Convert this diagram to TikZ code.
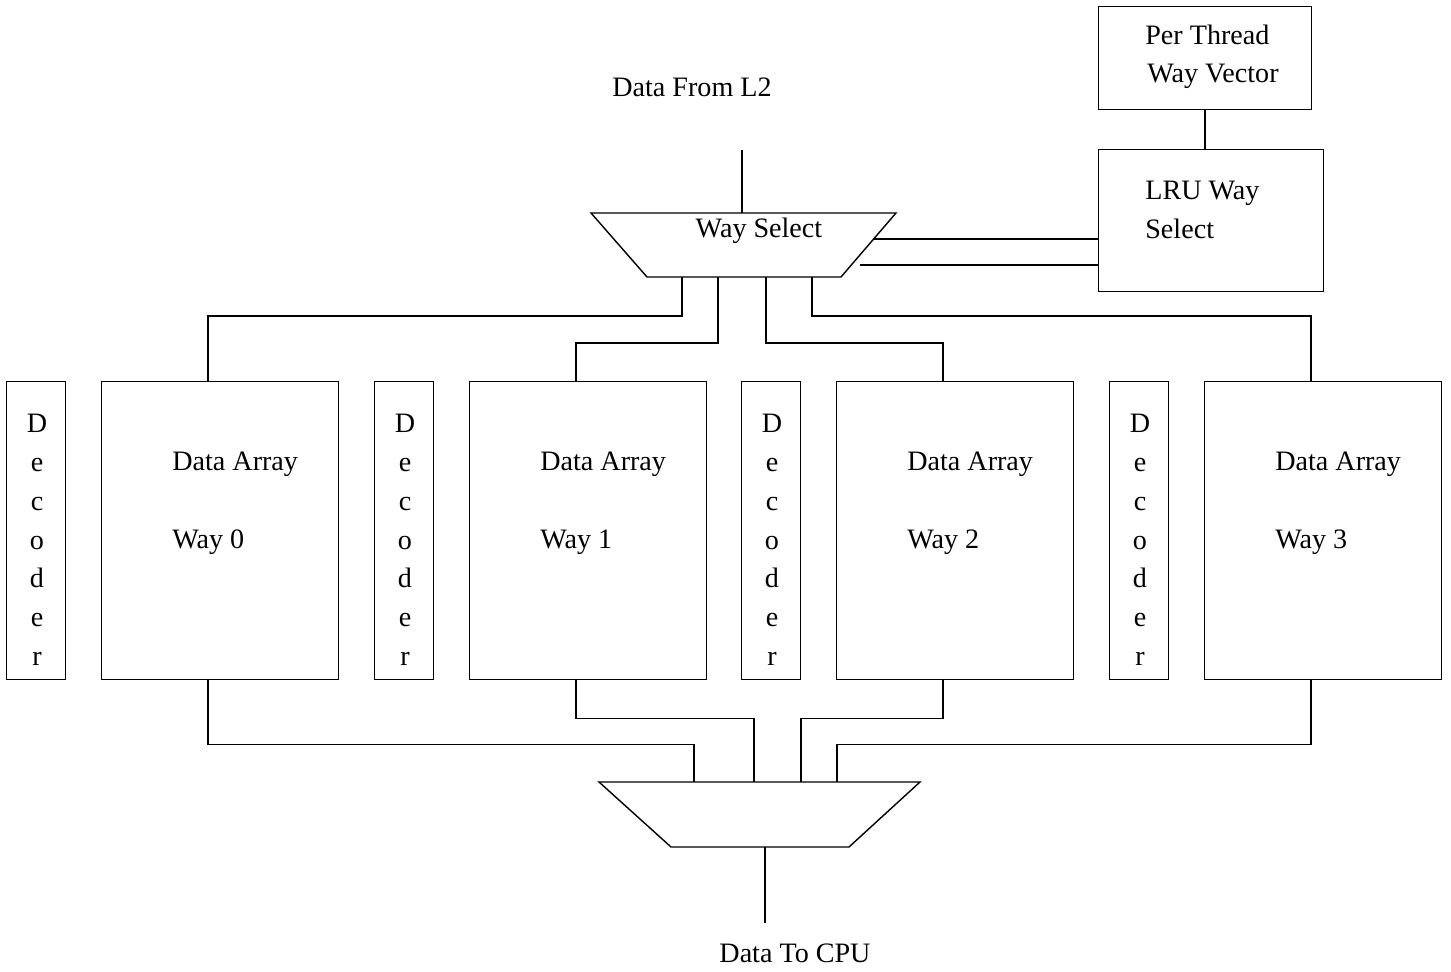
\documentclass[tikz,border=0pt]{standalone}
\usepackage{fontspec}
\setmainfont{Liberation Serif}
\usetikzlibrary{positioning,calc}

\begin{document}
\begin{tikzpicture}[
  x=0.02cm, y=-0.02cm,
  wire/.style={line width=0.8pt},
  waybox/.style={draw, line width=0.8pt, anchor=north west, inner sep=0pt,
    minimum width=4.74cm, minimum height=5.96cm},
  decbox/.style={draw, line width=0.8pt, anchor=north west, inner sep=0pt,
    minimum width=1.18cm, minimum height=5.96cm},
  lbl/.style={inner sep=0pt, font=\fontsize{16}{19}\selectfont},
]
\useasboundingbox (0,0) rectangle (1451,972);

% Decoders and data arrays
\foreach \i/\x in {0/101,1/469,2/836,3/1204} {
  \node[decbox] (dec\i) at (\x-95,381) {};
  \node[waybox] (way\i) at (\x,381) {};
  \node[lbl, anchor=base west] (arr\i) at (\x+71,471) {Data Array};
  \node[lbl, anchor=base west] (num\i) at (\x+71,549) {Way \i};
  \foreach \c [count=\k from 0] in {D,e,c,o,d,e,r}
    \node[lbl, anchor=base] (dec\i-\k) at (\x-64,433+38.7*\k) {\c};
  \coordinate (win\i) at ($(way\i.north west)+(107,0)$);
  \coordinate (wout\i) at ($(way\i.south west)+(107,0)$);
}

% Way select mux
\draw[wire] (591,213) -- (896,213) -- (841,277) -- (647,277) -- cycle;
\node[lbl, anchor=base] (wsel) at (759,238) {Way Select};
\coordinate (wsin) at (742,213);
\coordinate (ws0) at (682,277);
\coordinate (ws1) at (718,277);
\coordinate (ws2) at (766,277);
\coordinate (ws3) at (812,277);

% Output mux
\draw[wire] (599,782) -- (920,782) -- (849,847) -- (671,847) -- cycle;
\coordinate (ds0) at (694,782);
\coordinate (ds1) at (754,782);
\coordinate (ds2) at (801,782);
\coordinate (ds3) at (837,782);
\coordinate (dout) at (765,847);

% LRU logic
\node[draw, line width=0.8pt, anchor=north west, minimum width=4.26cm,
  minimum height=2.06cm] (ptv) at (1098,6) {};
\node[lbl, anchor=base west] (ptv1) at (1145,45) {Per Thread};
\node[lbl, anchor=base west] (ptv2) at (1147,83) {Way Vector};
\node[draw, line width=0.8pt, anchor=north west, minimum width=4.5cm,
  minimum height=2.84cm] (lru) at (1098,149) {};
\node[lbl, anchor=base west] (lru1) at (1145,200) {LRU Way};
\node[lbl, anchor=base west] (lru2) at (1145,239) {Select};
\coordinate (sel0) at (873,239);
\coordinate (sel1) at (860,265);

% Labels
\node[lbl, anchor=base] (l2) at (692,97) {Data From L2};
\node[lbl, anchor=base] (cpu) at (795,962) {Data To CPU};
\coordinate (l2end) at (742,150);
\coordinate (cpuend) at (765,923);

% Wires
\draw[wire] (l2end) -- (wsin);
\draw[wire] (ptv.south) -- (ptv.south |- lru.north);
\draw[wire] (sel0) -- (sel0 -| lru.west);
\draw[wire] (sel1) -- (sel1 -| lru.west);
\draw[wire] (ws0) -- ++(0,39) -| (win0);
\draw[wire] (ws1) -- ++(0,66) -| (win1);
\draw[wire] (ws2) -- ++(0,66) -| (win2);
\draw[wire] (ws3) -- ++(0,39) -| (win3);
\draw[wire] (wout0) -- ++(0,64) -| (ds0);
\draw[wire] (wout1) -- ++(0,38) -| (ds1);
\draw[wire] (wout2) -- ++(0,38) -| (ds2);
\draw[wire] (wout3) -- ++(0,64) -| (ds3);
\draw[wire] (dout) -- (cpuend);

\end{tikzpicture}
\end{document}
